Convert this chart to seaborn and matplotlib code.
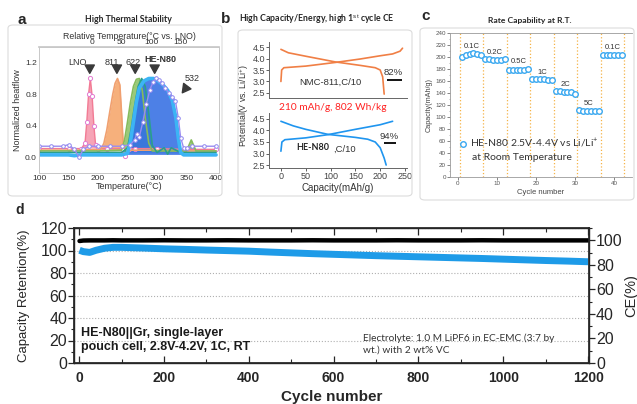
import numpy as np
import pandas as pd
import seaborn as sns
import matplotlib.pyplot as plt
from matplotlib.patches import FancyBboxPatch
from matplotlib.ticker import MultipleLocator

W, H = 637, 404

# ---- panel a: DSC traces (temperature in C, normalized heat flow)
lno_temp = [100, 150, 172, 178, 181, 184, 187, 190, 193, 196, 200, 215, 240, 246, 252, 262, 300, 350, 400]
lno_heat = [0.11, 0.11, 0.11, 0.18, 0.45, 0.80, 1.00, 0.78, 0.40, 0.15, 0.11, 0.11, 0.11, 0.02, 0.11, 0.11, 0.11, 0.10, 0.10]

n811_temp = [100, 160, 205, 210, 215, 220, 225, 229, 233, 237, 240, 243, 250, 260, 300, 350, 400]
n811_heat = [0.09, 0.09, 0.10, 0.18, 0.35, 0.58, 0.80, 0.94, 1.00, 0.92, 0.55, 0.12, 0.09, 0.09, 0.09, 0.08, 0.08]

n622_temp = [100, 200, 240, 245, 250, 255, 260, 265, 270, 275, 280, 286, 292, 300, 350, 358, 366, 400]
n622_heat = [0.08, 0.08, 0.09, 0.22, 0.45, 0.70, 0.90, 0.99, 1.00, 0.85, 0.50, 0.18, 0.08, 0.08, 0.08, 0.22, 0.08, 0.08]

teal_temp = [100, 240, 250, 256, 262, 268, 274, 280, 286, 292, 300, 312, 318, 324, 340, 400]
teal_heat = [0.06, 0.06, 0.12, 0.35, 0.65, 0.90, 1.00, 0.90, 0.55, 0.15, 0.06, 0.12, 0.04, 0.12, 0.06, 0.06]

he_temp = [100, 150, 160, 170, 200, 240, 250, 255, 260, 265, 270, 278, 286, 294, 302, 310, 318, 326, 332, 336,
           340, 345, 355, 400]
he_heat = [0.03, 0.03, 0.02, 0.03, 0.03, 0.03, 0.05, 0.20, 0.45, 0.70, 0.88, 0.97, 1.00, 1.00, 0.97, 0.92, 0.85,
           0.72, 0.50, 0.25, 0.06, 0.03, 0.03, 0.03]

n532_temp = [100, 120, 140, 150, 160, 168, 175, 185, 200, 220, 240, 255, 262, 266, 270, 276, 282, 288, 293, 298,
             303, 308, 314, 320, 326, 331, 336, 340, 345, 350, 360, 380, 400]
n532_heat = [0.14, 0.14, 0.14, 0.16, 0.10, 0.00, 0.10, 0.14, 0.14, 0.14, 0.14, 0.16, 0.22, 0.30, 0.26, 0.45, 0.68,
             0.86, 0.95, 1.00, 0.98, 0.94, 0.88, 0.82, 0.77, 0.72, 0.50, 0.25, 0.12, 0.12, 0.14, 0.14, 0.14]

# ---- panel b: first charge / discharge
nmc_chg_cap = [0, 1.5, 6, 50, 110, 160, 200, 225, 240, 245]
nmc_chg_v = [3.0, 3.5, 3.6, 3.67, 3.83, 3.98, 4.12, 4.2, 4.32, 4.45]
nmc_dis_cap = [0, 15, 50, 110, 160, 190, 200, 205, 207, 208]
nmc_dis_v = [4.4, 4.25, 4.1, 3.85, 3.7, 3.6, 3.5, 3.2, 2.7, 2.45]

he_chg_cap = [0, 2, 8, 50, 95, 150, 200, 225]
he_chg_v = [3.1, 3.5, 3.6, 3.68, 3.82, 4.05, 4.25, 4.4]
he_dis_cap = [0, 25, 50, 95, 150, 175, 190, 200, 208, 212]
he_dis_v = [4.4, 4.2, 4.05, 3.83, 3.7, 3.62, 3.5, 3.25, 2.8, 2.5]

# first-cycle CE labels: (text, underline start, underline end, underline voltage)
ce_nmc = ('82%', 214, 244, 3.08)
ce_he = ('94%', 207, 231, 3.46)

# ---- panel c: rate capability
rate_cycle = list(range(1, 43))
rate_cap = [200, 204, 205, 206, 205, 204,
            196, 196, 195, 195, 195, 196,
            179, 179, 179, 179, 179, 180,
            163, 163, 163, 163, 162, 162,
            143, 143, 142, 142, 141, 139,
            111, 110, 110, 110, 110, 110,
            204, 204, 204, 204, 204, 204]
rate_names = ['0.1C', '0.2C', '0.5C', '1C', '2C', '5C', '0.1C']
rate_bounds = [0.5, 6.5, 12.5, 18.5, 24.5, 30.5, 36.5, 42.5]

# ---- panel d: long-term pouch cell cycling
d_cycle = [1, 10, 25, 40, 60, 80, 100, 150, 200, 250, 300, 350, 400, 450, 500, 550, 600, 650, 700,
           750, 800, 850, 900, 950, 1000, 1050, 1100, 1150, 1200]
d_retention = [100.2, 99.0, 98.3, 100.2, 102.0, 102.8, 102.8, 102.2, 101.5, 101.0, 100.4, 99.9, 99.4, 98.6,
               97.9, 97.2, 96.6, 96.0, 95.4, 94.9, 94.4, 93.9, 93.4, 92.9, 92.3, 91.7, 91.1, 90.6, 90.0]
d_ce = [99.4, 99.8, 99.9, 99.9, 99.9, 100.0, 99.9, 99.9, 100.0, 99.9, 99.9, 100.0, 99.9, 99.9, 99.9,
        100.0, 99.9, 99.9, 99.9, 100.0, 99.9, 99.9, 99.9, 100.0, 99.9, 99.9, 99.9, 99.9, 99.9]

sns.set_theme(style="ticks")
plt.rcParams['font.family'] = ['Liberation Sans', 'DejaVu Sans']
plt.rcParams['mathtext.fontset'] = 'custom'
plt.rcParams['mathtext.rm'] = 'Liberation Sans'
CAL = ['Lato', 'DejaVu Sans']

fig = plt.figure(figsize=(W / 100, H / 100), dpi=100)


def add_ax(l, t, r, b):
    return fig.add_axes([l / W, 1 - b / H, (r - l) / W, (b - t) / H])


def ftext(x, y, s, **kw):
    fig.text(x / W, 1 - y / H, s, **kw)


def frame(x0, y0, x1, y1):
    fig.patches.append(FancyBboxPatch((x0 / W, 1 - y1 / H), (x1 - x0) / W, (y1 - y0) / H,
                                      boxstyle="round,pad=0,rounding_size=0.008",
                                      transform=fig.transFigure, fc='none', ec='#dcdcdc', lw=0.8))


frame(8, 25, 222, 196)
frame(238, 30, 412, 196)
frame(420, 28, 634, 200)

# ================= panel a
ax = add_ax(39, 47, 219, 173)
traces = [
    (lno_temp, lno_heat, '#f27b94', '#f59aae', 'o', '#e27ad0'),
    (n811_temp, n811_heat, '#f0a070', '#f5a86e', None, None),
    (n622_temp, n622_heat, '#86bb5c', '#8fc46a', None, None),
    (teal_temp, teal_heat, '#2a9f8c', '#2fa894', None, None),
    (he_temp, he_heat, '#3cb4f5', '#3a72e4', None, None),
]
for t, h, lc, fc, mk, mc in traces:
    h_arr = np.array(h)
    ax.fill_between(t, h_arr[0], h_arr, where=h_arr >= h_arr[0], interpolate=True, color=fc, alpha=0.9, lw=0)
    if mk:
        sns.lineplot(x=t, y=h, ax=ax, color=lc, lw=1.0, marker=mk, markersize=3,
                     markerfacecolor='white', markeredgecolor=mc, markeredgewidth=0.7)
    else:
        sns.lineplot(x=t, y=h, ax=ax, color=lc, lw=1.2)
sns.lineplot(x=he_temp, y=he_heat, ax=ax, color='#3cb4f5', lw=2.6)
sns.lineplot(x=n532_temp, y=n532_heat, ax=ax, color='#9a8cf0', lw=1.0, marker='o', markersize=2.6,
             markerfacecolor='white', markeredgecolor='#8f86f0', markeredgewidth=0.7)
ax.set_xlim(100, 405)
ax.set_ylim(-0.2, 1.4)
ax.set_xticks(range(100, 401, 50))
ax.set_yticks([0.0, 0.4, 0.8, 1.2])
ax.set_yticklabels(['0.0', '0.4', '0.8', '1.2'])
for s in ax.spines.values():
    s.set_color('#c8c8c8')
    s.set_linewidth(0.7)
ax.tick_params(labelsize=6, length=0, pad=1.5, colors='#333333')
ax.set_xlabel('Temperature(°C)', fontsize=6.5, labelpad=0, color='#333333')
ax.set_ylabel('Normalized heatflow', fontsize=6.5, labelpad=2, color='#333333')
sec = ax.secondary_xaxis('top', functions=(lambda t: t - 190, lambda r: r + 190))
sec.set_xticks([0, 50, 100, 150])
sec.tick_params(labelsize=6, length=0, pad=0.5, colors='#333333')
sec.set_xlabel('Relative Temperature(°C vs. LNO)', fontsize=6.3, labelpad=0.5, color='#333333')
sec.spines['top'].set_color('#c8c8c8')
arrow = dict(arrowstyle='simple,head_width=0.55,head_length=0.5,tail_width=0.28', color='#3a3a3a')
for name, tx, ty, ax_x, bold in [('LNO', 165, 1.2, 186, False), ('811', 224, 1.2, 232, False),
                                 ('622', 259, 1.2, 263, False), ('HE-N80', 305, 1.24, 296, True)]:
    ax.text(tx, ty, name, fontsize=6.5, ha='center', va='center', color='#333333',
            fontweight='bold' if bold else 'normal')
    ax.annotate('', xy=(ax_x, 1.03), xytext=(ax_x, 1.15), arrowprops=arrow)
ax.text(359, 1.0, '532', fontsize=6.5, ha='center', va='center', color='#333333')
ax.annotate('', xy=(340, 0.79), xytext=(351, 0.9), arrowprops=arrow)

# ================= panel b
axb1 = add_ax(269, 42, 407, 98)
axb2 = add_ax(269, 113, 407, 168)
sns.lineplot(x=nmc_chg_cap, y=nmc_chg_v, ax=axb1, color='#f07f45', lw=1.2, sort=False)
sns.lineplot(x=nmc_dis_cap, y=nmc_dis_v, ax=axb1, color='#f07f45', lw=1.2, sort=False)
sns.lineplot(x=he_chg_cap, y=he_chg_v, ax=axb2, color='#1f95ef', lw=1.2, sort=False)
sns.lineplot(x=he_dis_cap, y=he_dis_v, ax=axb2, color='#1f95ef', lw=1.2, sort=False)
for a_, lim in [(axb1, (2.28, 4.72)), (axb2, (2.37, 4.76))]:
    a_.set_xlim(-24, 254)
    a_.set_ylim(*lim)
    a_.set_yticks([2.5, 3.0, 3.5, 4.0, 4.5])
    a_.set_yticklabels(['2.5', '3.0', '3.5', '4.0', '4.5'])
    for side in ['top', 'right']:
        a_.spines[side].set_visible(False)
    for side in ['left', 'bottom']:
        a_.spines[side].set_color('#666666')
        a_.spines[side].set_linewidth(0.7)
    a_.tick_params(labelsize=6.5, length=2, width=0.6, pad=1, colors='#444444')
axb1.set_xticks([])
axb2.set_xticks([0, 50, 100, 150, 200, 250])
axb2.set_xlabel('Capacity(mAh/g)', fontsize=7, labelpad=1, color='#333333')
axb1.text(99, 2.95, 'NMC-811,C/10', fontsize=6.8, ha='center', va='center', color='#333333')
axb2.text(64, 3.24, 'HE-N80', fontsize=6.5, fontweight='bold', family=CAL, ha='center', va='center', color='#222222')
axb2.text(129, 3.2, ',C/10', fontsize=6.8, ha='center', va='center', color='#333333')
for a_, (lab, x0, x1, yv) in [(axb1, ce_nmc), (axb2, ce_he)]:
    a_.text((x0 + x1) / 2 - 2, yv + 0.3, lab, fontsize=6.8, ha='center', va='center', color='#333333')
    a_.hlines(yv, x0, x1, color='black', lw=1.3)
ftext(333, 108, '210 mAh/g, 802 Wh/kg', fontsize=7.3, family=CAL, color='#ff2020', ha='center', va='center')
ftext(244, 105, 'Potential(V vs. Li/Li$^{+}$)', fontsize=6.3, rotation=90, ha='center', va='center', color='#333333')

# ================= panel c
axc = add_ax(450, 33, 632, 177)
for xb in rate_bounds:
    axc.axvline(xb, color='#f5b347', ls=':', lw=0.9, zorder=0)
sns.scatterplot(x=rate_cycle, y=rate_cap, ax=axc, marker='o', s=16, facecolor='white',
                edgecolor='#3aa8f0', linewidth=1.0, zorder=3, label='HE-N80 2.5V-4.4V vs Li/Li$^{+}$')
grp = pd.DataFrame({'cycle': rate_cycle, 'cap': rate_cap})
grp['step'] = (grp['cycle'] - 1) // 6
for i, g in grp.groupby('step'):
    axc.text(g['cycle'].mean(), g['cap'].max() + 12, rate_names[i], fontsize=5.5, ha='center', va='center',
             color='#333333')
axc.set_xlim(-2, 44.5)
axc.set_ylim(0, 240)
axc.set_yticks(range(0, 241, 20))
axc.yaxis.set_minor_locator(MultipleLocator(10))
axc.set_xticks([0, 10, 20, 30, 40])
for s in axc.spines.values():
    s.set_color('#9a9a9a')
    s.set_linewidth(0.6)
axc.spines['right'].set_visible(False)
axc.tick_params(labelsize=4.5, length=2, width=0.5, pad=1, colors='#555555')
axc.tick_params(which='minor', length=1, width=0.4, colors='#777777')
axc.set_xlabel('Cycle number', fontsize=5.5, labelpad=2, color='#444444')
axc.set_ylabel('Capacity(mAh/g)', fontsize=5.2, labelpad=2, color='#444444')
leg = axc.legend(loc='center left', bbox_to_anchor=(0.041, 0.236), frameon=False,
                 handletextpad=0.2, borderpad=0, borderaxespad=0, handlelength=1,
                 prop={'family': CAL, 'size': 7.5})
for txt in leg.get_texts():
    txt.set_color('#333333')
axc.text(3.5, 33, 'at Room Temperature', fontsize=7.5, family=CAL, ha='left', va='center', color='#333333')

# ================= panel d
axd = add_ax(74, 228, 589, 363)
sns.lineplot(x=d_cycle, y=d_retention, ax=axd, color='#1e9be8', lw=5, solid_capstyle='butt')
axd.set_xlim(-12, 1202)
axd.set_ylim(0, 120)
axd.set_yticks(range(0, 121, 20))
axd.yaxis.set_minor_locator(MultipleLocator(10))
axd.xaxis.set_minor_locator(MultipleLocator(100))
axd.set_xticks(range(0, 1201, 200))
axd.set_xticklabels([str(v) for v in range(0, 1201, 200)], fontweight='bold', fontsize=10)
axd.grid(axis='y', ls=':', color='#b0b0b0', lw=0.8)
axd.tick_params(axis='y', which='major', labelsize=11.5, length=4, width=0.9, pad=1)
axd.tick_params(axis='y', which='minor', length=2, width=0.8)
axd.tick_params(axis='x', which='both', direction='in', top=True, bottom=True, pad=6)
axd.tick_params(axis='x', which='major', length=5, width=0.9)
axd.tick_params(axis='x', which='minor', length=3, width=0.8)
axd.set_xlabel('Cycle number', fontsize=11, fontweight='bold', labelpad=3)
axd.set_ylabel('Capacity Retention(%)', fontsize=9.5, labelpad=7.5)
for s in axd.spines.values():
    s.set_linewidth(1.0)
axd2 = axd.twinx()
sns.lineplot(x=d_cycle, y=d_ce, ax=axd2, color='black', lw=3.2)
axd2.set_ylim(0, 110)
axd2.set_yticks(range(0, 101, 20))
axd2.yaxis.set_minor_locator(MultipleLocator(10))
axd2.tick_params(axis='y', which='major', labelsize=11.5, length=4, width=0.9, pad=1)
axd2.tick_params(axis='y', which='minor', length=2, width=0.8)
axd2.set_ylabel('CE(%)', fontsize=10.5, labelpad=1)
axd.text(5, 20.5, 'HE-N80||Gr, single-layer\npouch cell, 2.8V-4.2V, 1C, RT', fontsize=9, fontweight='bold',
         ha='left', va='center', linespacing=1.25, color='#1a1a1a')
axd.text(670, 17, 'Electrolyte: 1.0 M LiPF6 in EC-EMC (3:7 by\nwt.) with 2 wt% VC', fontsize=7.3, family=CAL,
         ha='left', va='center', linespacing=1.35, color='#333333')

# ================= titles and letters
ftext(22, 20, 'a', fontsize=11, fontweight='bold', ha='center', va='center')
ftext(226, 19, 'b', fontsize=11, fontweight='bold', ha='center', va='center')
ftext(426, 16, 'c', fontsize=11, fontweight='bold', ha='center', va='center')
ftext(20, 210, 'd', fontsize=10, fontweight='bold', ha='center', va='center')
ftext(128, 20, 'High Thermal Stability', fontsize=6.3, fontweight='bold', family=CAL, ha='center', va='center')
ftext(239, 19, 'High Capacity/Energy, high 1$^{\\mathrm{st}}$ cycle CE', fontsize=6.3, fontweight='bold',
      family=CAL, ha='left', va='center')
ftext(530, 20, 'Rate Capability at R.T.', fontsize=6.1, fontweight='bold', family=CAL, ha='center', va='center')

fig.savefig('out.png', dpi=100)
